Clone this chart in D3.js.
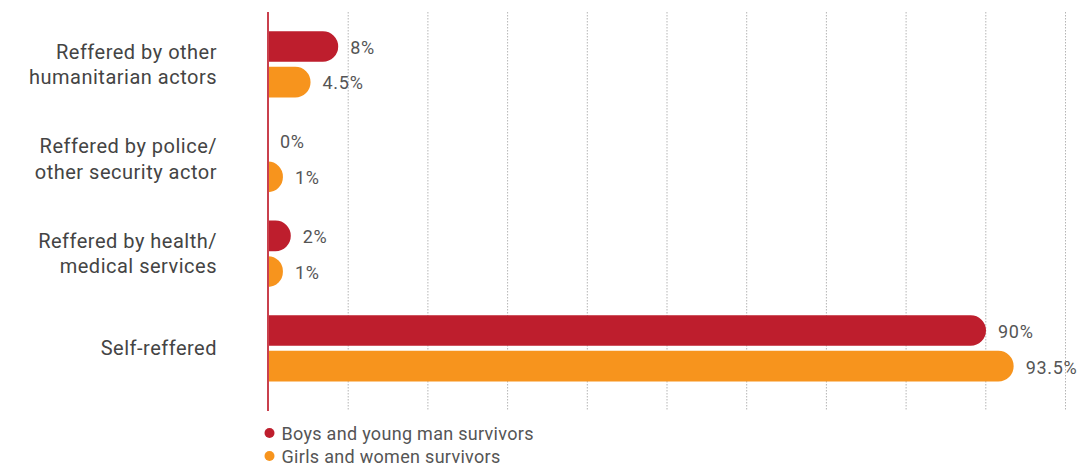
<!DOCTYPE html>
<html>
<head>
<meta charset="utf-8">
<script src="https://cdn.jsdelivr.net/npm/d3@7"></script>
<style>
  html, body { margin: 0; padding: 0; background: #fff; }
  svg { display: block; font-family: Roboto, "Noto Sans", sans-serif; }
</style>
</head>
<body>
<svg id="chart" width="1090" height="466"></svg>
<script>
// Referral pathways of survivors, by group (%)
const categories = [
  ["Reffered by other", "humanitarian actors"],
  ["Reffered by police/", "other security actor"],
  ["Reffered by health/", "medical services"],
  ["Self-reffered"]
];
const seriesNames = ["Boys and young man survivors", "Girls and women survivors"];
const boysValues = [8, 0, 2, 90];
const girlsValues = [4.5, 1, 1, 93.5];
const valueLabels = [["8%", "0%", "2%", "90%"], ["4.5%", "1%", "1%", "93.5%"]];
const gridTicks = [0, 10, 20, 30, 40, 50, 60, 70, 80, 90, 100];
const colors = ["#be1e2d", "#f7941d"];

const svg = d3.select("#chart");
const axisX = 268, plotTop = 12, plotBottom = 411, plotRight = 1065;
const capPad = 7;

const gridScale = d3.scaleLinear().domain([0, 100]).range([axisX, plotRight]);
const x = d3.scaleLinear().domain([0, 100]).range([axisX + capPad, plotRight]);
const y = d3.scaleBand().domain(d3.range(categories.length)).range([17, 395.7]).padding(0);
const barH = 30.7, barGap = 5;

// dotted vertical gridlines
svg.append("g").selectAll("line")
  .data(gridTicks.slice(1))
  .join("line")
  .attr("x1", d => gridScale(d) + 0.5).attr("x2", d => gridScale(d) + 0.5)
  .attr("y1", plotTop).attr("y2", plotBottom)
  .attr("stroke", "#b5b5b5").attr("stroke-width", 1)
  .attr("stroke-dasharray", "1.5,1.5");

// bars with a rounded right end
function barPath(x0, x1, y0, h) {
  const w = x1 - x0;
  const r = Math.min(h / 2, w);
  return `M${x0},${y0}H${x1 - r}A${r},${r} 0 0 1 ${x1},${y0 + r}` +
    `V${y0 + h - r}A${r},${r} 0 0 1 ${x1 - r},${y0 + h}H${x0}Z`;
}

const seriesData = [boysValues, girlsValues];
seriesData.forEach((vals, s) => {
  const g = svg.append("g");
  vals.forEach((v, i) => {
    const center = y(i) + y.bandwidth() / 2;
    const y0 = s === 0 ? center - barGap / 2 - barH : center + barGap / 2;
    const end = v > 0 ? x(v) : axisX;
    if (v > 0) {
      g.append("path")
        .attr("d", barPath(axisX, end, y0, barH))
        .attr("fill", colors[s]);
    }
    g.append("text")
      .attr("x", end + 12)
      .attr("y", y0 + barH / 2 + 1)
      .attr("dy", "0.35em")
      .attr("font-size", 18)
      .attr("letter-spacing", 0.7)
      .attr("fill", "#555")
      .text(valueLabels[s][i]);
  });
});

// axis baseline
svg.append("line")
  .attr("x1", axisX).attr("x2", axisX)
  .attr("y1", plotTop).attr("y2", plotBottom)
  .attr("stroke", "#c9404d").attr("stroke-width", 2);

// category labels
const catG = svg.append("g");
categories.forEach((lines, i) => {
  const center = y(i) + y.bandwidth() / 2;
  const lh = 25.5;
  const first = center + 7 - (lines.length - 1) * lh / 2;
  const t = catG.append("text")
    .attr("text-anchor", "end")
    .attr("font-size", 20)
    .attr("letter-spacing", 0.5)
    .attr("fill", "#444");
  lines.forEach((ln, k) => {
    t.append("tspan").attr("x", 217).attr("y", first + k * lh).text(ln);
  });
});

// legend
const leg = svg.append("g");
seriesNames.forEach((name, s) => {
  const ly = 433 + s * 23;
  leg.append("circle").attr("cx", 269.5).attr("cy", ly).attr("r", 5).attr("fill", colors[s]);
  leg.append("text").attr("x", 281.5).attr("y", ly + 0.5).attr("dy", "0.35em")
    .attr("font-size", 18).attr("letter-spacing", 0.3)
    .attr("fill", "#555").text(name);
});
</script>
</body>
</html>
